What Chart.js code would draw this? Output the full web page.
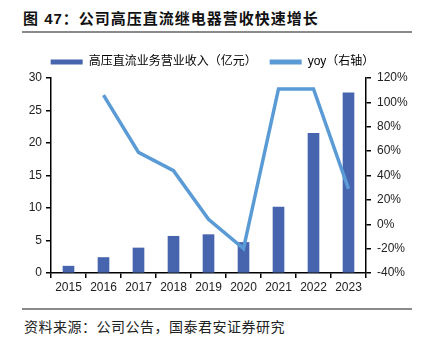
<!DOCTYPE html>
<html>
<head>
<meta charset="utf-8">
<script src="https://cdn.jsdelivr.net/npm/chart.js@4.4.0/dist/chart.umd.min.js"></script>
<style>
  html, body { margin: 0; padding: 0; background: #fff; }
  body { width: 425px; height: 339px; position: relative; overflow: hidden; font-family: "Liberation Sans", "Noto Sans CJK SC", sans-serif; }
  #title { position: absolute; left: 23px; top: 7px; font-size: 15px; font-weight: bold; letter-spacing: 1px; color: #111; font-family: "Liberation Sans", "Noto Sans CJK SC", sans-serif; white-space: nowrap; }
  #line1 { position: absolute; left: 22px; top: 31px; width: 390px; height: 2px; background: #8a8a8a; }
  #line2 { position: absolute; left: 22px; top: 308px; width: 390px; height: 1.5px; background: #8a8a8a; }
  #source { position: absolute; left: 24px; top: 316px; font-size: 14px; letter-spacing: 0.5px; color: #222; font-family: "Noto Sans CJK SC", sans-serif; white-space: nowrap; }
  #wrap { position: absolute; left: 0; top: 36px; width: 425px; height: 265px; }
</style>
</head>
<body>
<div id="title">图 47：公司高压直流继电器营收快速增长</div>
<div id="line1"></div>
<div id="wrap"><canvas id="c" width="425" height="265"></canvas></div>
<div id="line2"></div>
<div id="source">资料来源：公司公告，国泰君安证券研究</div>
<script>
const years = ["2015","2016","2017","2018","2019","2020","2021","2022","2023"];
const revenue = [1.05, 2.38, 3.85, 5.65, 5.9, 4.7, 10.15, 21.5, 27.7];
const yoy = [null, 106, 59, 44, 4, -20, 111, 111, 29];
const revenueLabel = "高压直流业务营业收入（亿元）";
const yoyLabel = "yoy（右轴）";
const leftTicks = [0, 5, 10, 15, 20, 25, 30];
const rightTicks = [-40, -20, 0, 20, 40, 60, 80, 100, 120];

const FONT = "'Liberation Sans', 'Noto Sans CJK SC', sans-serif";
const tickFont = { family: FONT, size: 12 };

new Chart(document.getElementById("c"), {
  data: {
    labels: years,
    datasets: [
      {
        type: "line",
        label: yoyLabel,
        data: yoy,
        yAxisID: "yR",
        borderColor: "#5B9BD5",
        backgroundColor: "#5B9BD5",
        borderWidth: 3.5,
        pointRadius: 0,
        tension: 0,
        order: 0
      },
      {
        type: "bar",
        label: revenueLabel,
        data: revenue,
        yAxisID: "yL",
        backgroundColor: "#4765AE",
        borderWidth: 0,
        barThickness: 11,
        order: 1
      }
    ]
  },
  options: {
    responsive: false,
    animation: false,
    layout: { padding: { left: 0, right: 0, top: 7, bottom: 0 } },
    plugins: {
      legend: {
        position: "top",
        labels: {
          font: { family: FONT, size: 12 },
          color: "#222",
          boxWidth: 32,
          boxHeight: 5,
          padding: 13,
          generateLabels(chart) {
            const ds = chart.data.datasets;
            return [1, 0].map(i => ({
              text: ds[i].label,
              fillStyle: ds[i].type === "bar" ? ds[i].backgroundColor : ds[i].borderColor,
              strokeStyle: ds[i].type === "bar" ? ds[i].backgroundColor : ds[i].borderColor,
              lineWidth: 0,
              hidden: false,
              datasetIndex: i
            }));
          }
        }
      },
      tooltip: { enabled: false }
    },
    scales: {
      x: {
        offset: true,
        grid: { display: true, drawOnChartArea: false, offset: true, tickLength: 5, color: "#000", lineWidth: 1.5 },
        border: { display: true, color: "#000", width: 1.5 },
        ticks: { font: tickFont, color: "#222", padding: 2, maxRotation: 0 },
        afterFit(s) { s.height = 28; }
      },
      yL: {
        position: "left",
        min: 0, max: 30,
        afterBuildTicks(s) { s.ticks = leftTicks.map(v => ({ value: v })); },
        grid: { display: true, drawOnChartArea: false, tickLength: 5, color: "#000", lineWidth: 1.5 },
        border: { display: true, color: "#000", width: 1.5 },
        ticks: { font: tickFont, color: "#222", padding: 4 },
        afterFit(s) { s.width = 51; }
      },
      yR: {
        position: "right",
        min: -40, max: 120,
        afterBuildTicks(s) { s.ticks = rightTicks.map(v => ({ value: v })); },
        grid: { display: true, drawOnChartArea: false, tickLength: 5, color: "#000", lineWidth: 1.5 },
        border: { display: true, color: "#000", width: 1.5 },
        ticks: { font: tickFont, color: "#222", padding: 6, callback: v => v + "%" },
        afterFit(s) { s.width = 59; }
      }
    }
  }
});
</script>
</body>
</html>
